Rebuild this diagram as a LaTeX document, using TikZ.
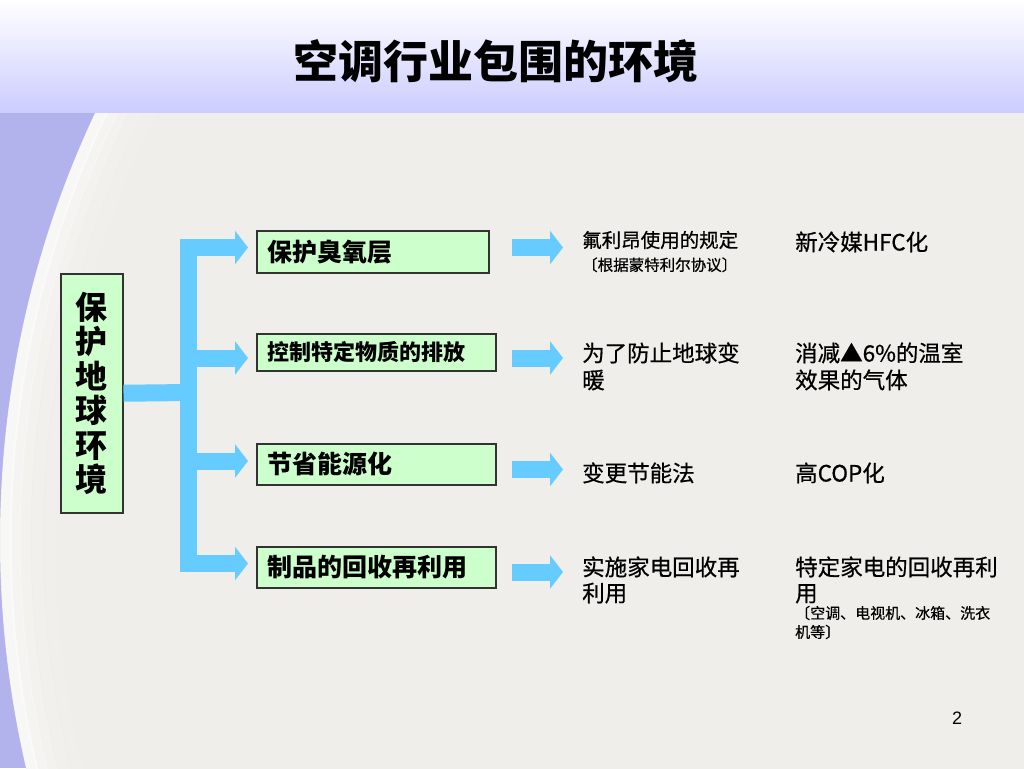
\documentclass[tikz,border=0pt]{standalone}
\usepackage{fontspec}
\setmainfont{Noto Sans CJK SC}
\newfontfamily\medcjk{Noto Sans CJK SC}[FakeBold=0.6]
\newfontfamily\latinf{Liberation Sans}
\usetikzlibrary{arrows.meta}
\definecolor{lav}{RGB}{178,178,236}
\definecolor{bandbot}{RGB}{204,204,255}
\definecolor{cream}{RGB}{239,238,234}
\definecolor{boxfill}{RGB}{204,255,204}
\definecolor{arrowblue}{RGB}{102,204,255}
\definecolor{boxline}{RGB}{51,51,51}
\newcommand{\fs}[2]{\fontsize{#1}{#2}\selectfont}
\begin{document}
\begin{tikzpicture}[x=1pt,y=-1pt,
  box/.style={draw=boxline, line width=1.5pt, fill=boxfill, anchor=north west,
    inner xsep=11pt, inner ysep=0pt, align=left},
  bar/.style={draw=arrowblue, line width=17pt},
  arr/.style={bar, -{Triangle[length=13pt,width=33pt]}},
  txt/.style={anchor=base west, inner sep=0pt, align=left, text=black}]
\useasboundingbox (0,0) rectangle (1024,768);
% background
\fill[lav] (0,0) rectangle (1024,768);
\begin{scope}
\clip (0,112) rectangle (1024,768);
\fill[cream] (1005,540) circle (1005pt);
\foreach \r/\o in {999/0.55,990/0.4,980/0.28,968/0.16,955/0.08}
  \draw[white, opacity=\o, line width=11pt] (1005,540) circle (\r pt);
\end{scope}
\shade[top color=white, bottom color=bandbot] (0,0) rectangle (1024,112);
% title
\node[font=\bfseries\fs{45}{50}] (title) at (496,61) {空调行业包围的环境};
% left box
\node[box, minimum width=62pt, minimum height=239pt, inner xsep=0pt, align=center,
  font=\bfseries\fs{32}{34.5}] (L) at (60,273) {保\\护\\地\\球\\环\\境};
% boxes
\node[box, minimum width=232pt, minimum height=42pt, text width=210pt, font=\bfseries\fs{25}{28}] (b1) at (256,230) {保护臭氧层};
\node[box, minimum width=239pt, minimum height=37pt, text width=217pt, font=\bfseries\fs{22}{26}] (b2) at (256,333) {控制特定物质的排放};
\node[box, minimum width=239pt, minimum height=41pt, text width=217pt, font=\bfseries\fs{25}{28}] (b3) at (256,443) {节省能源化};
\node[box, minimum width=239pt, minimum height=41pt, text width=217pt, font=\bfseries\fs{25}{28}] (b4) at (256,546) {制品的回收再利用};
% connectors
\coordinate (a1) at (0,247.5);
\coordinate (a2) at (0,358);
\coordinate (a3) at (0,461);
\coordinate (a4) at (0,563.5);
\coordinate (j1) at (188,247.5);
\coordinate (j4) at (188,563.5);
\coordinate (jm) at (188,392.5);
\draw[bar] (L.east) -- (jm);
\draw[bar, line join=miter, {Triangle[length=13pt,width=33pt]}-{Triangle[length=13pt,width=33pt]},
  shorten <=8pt, shorten >=8pt] (b1.west |- a1) -- (j1) -- (j4) -- (b4.west |- a4);
\draw[arr, shorten >=8pt] (jm |- a2) -- (b2.west |- a2);
\draw[arr, shorten >=8pt] (jm |- a3) -- (b3.west |- a3);
% second column arrows
\coordinate (m1) at (512,247.5); \coordinate (n1) at (563,247.5);
\coordinate (m2) at (512,358);   \coordinate (n2) at (563,358);
\coordinate (m3) at (512,469.5); \coordinate (n3) at (563,469.5);
\coordinate (m4) at (512,572);   \coordinate (n4) at (563,572);
\draw[arr] (m1) -- (n1);
\draw[arr] (m2) -- (n2);
\draw[arr] (m3) -- (n3);
\draw[arr] (m4) -- (n4);
% first text column
\node[txt, font=\medcjk\fs{19.5}{24}] (t1) at (582,247.4) {氟利昂使用的规定};
\node[txt, font=\medcjk\fs{15.5}{19}] (t1b) at (582,270.7) {〔根据蒙特利尔协议〕};
\node[txt, font=\medcjk\fs{22.5}{27}] (t2) at (582,388.5) {为了防止地球变\\暖};
\node[txt, font=\medcjk\fs{22.5}{27}] (t3) at (582,481.5) {变更节能法};
\node[txt, font=\medcjk\fs{22.5}{26}] (t4) at (582,601.5) {实施家电回收再\\利用};
% second text column
\node[txt, font=\medcjk\fs{22.5}{27}] (u1) at (795,250.5) {新冷媒HFC化};
\node[txt, font=\medcjk\fs{22.5}{27}] (u2) at (795,388.5) {消减▲6\%的温室\\效果的气体};
\node[txt, font=\medcjk\fs{22.5}{27}] (u3) at (795,481.5) {高COP化};
\node[txt, font=\medcjk\fs{22.5}{26}] (u4) at (795,601.5) {特定家电的回收再利\\用};
\node[txt, font=\medcjk\fs{15}{19}] (u4b) at (795,637.7) {〔空调、电视机、冰箱、洗衣\\机等〕};
% page number
\node[font=\latinf\fs{18}{20}] (pg) at (957,718) {2};
\end{tikzpicture}
\end{document}
